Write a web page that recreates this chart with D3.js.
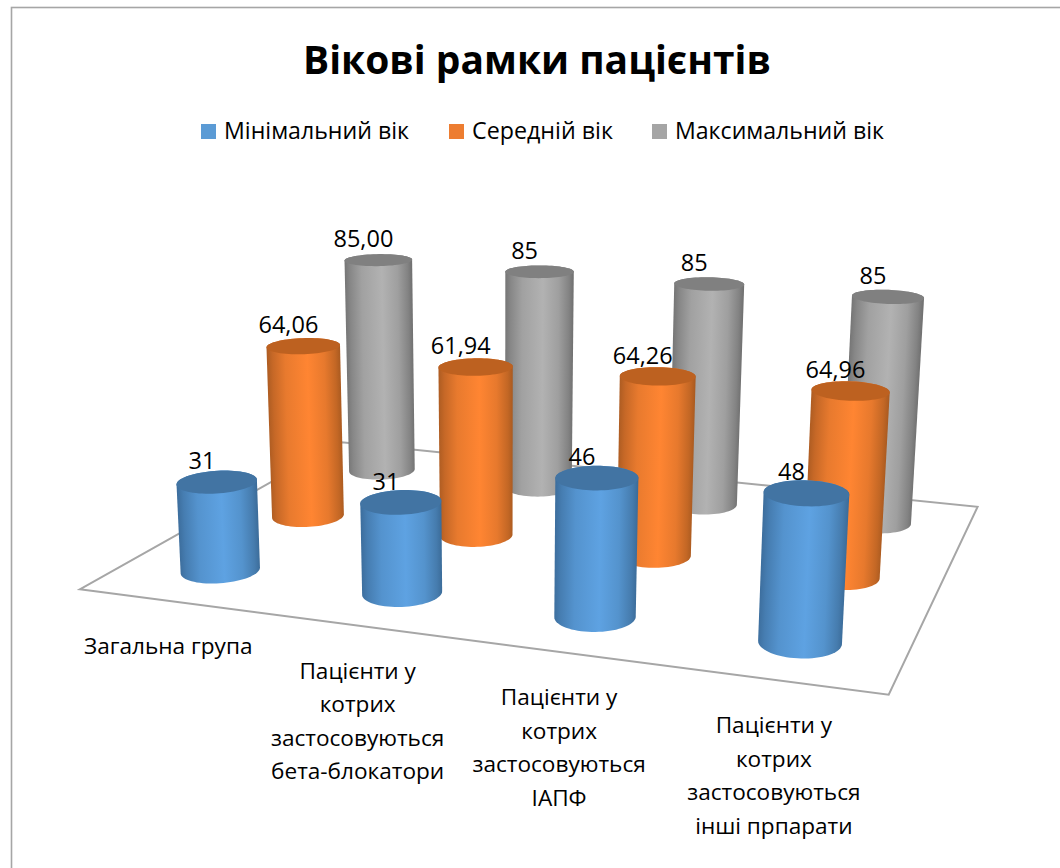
<!DOCTYPE html>
<html><head><meta charset="utf-8">
<script src="https://cdnjs.cloudflare.com/ajax/libs/d3/7.8.5/d3.min.js"></script>
<style>html,body{margin:0;padding:0;background:#fff}svg{display:block}text{font-family:"Open Sans",sans-serif;fill:#000}</style>
</head><body><svg id="c" width="1060" height="868"></svg>
<script>
const title = "Вікові рамки пацієнтів";
const categories = ["Загальна група","Пацієнти у котрих застосовуються бета-блокатори","Пацієнти у котрих застосовуються ІАПФ","Пацієнти у котрих застосовуються інші прпарати"];
const categoryLines = [["Загальна група"],["Пацієнти у","котрих","застосовуються","бета-блокатори"],["Пацієнти у","котрих","застосовуються","ІАПФ"],["Пацієнти у","котрих","застосовуються","інші прпарати"]];
const seriesNames = ["Мінімальний вік","Середній вік","Максимальний вік"];
const minAge = [31,31,46,48];
const meanAge = [64.06,61.94,64.26,64.96];
const maxAge = [85,85,85,85];
const minLabels = ["31","31","46","48"];
const meanLabels = ["64,06","61,94","64,26","64,96"];
const maxLabels = ["85,00","85","85","85"];
const seriesValues = [minAge,meanAge,maxAge];
const seriesLabels = [minLabels,meanLabels,maxLabels];
const legendColors = ["#5b9bd5","#ed7d31","#a5a5a5"];
const sideColors = [["#3c6d9c","#5ea2e2","#3b6b98"],["#ad5c22","#ff8532","#a95a20"],["#757575","#b2b2b2","#6f6f6f"]];
const capColors = ["#4274a3","#bd6120","#808080"];

const svg = d3.select("#c");
const u = d3.scalePoint().domain(categories).range([0,3]);
const v = d3.scalePoint().domain(seriesNames).range([0,2]);
const hScale = d3.scaleLinear().domain([0,100]).range([0,1]);

// camera: floor homography from unit square plus a vertical vanishing point
const H = {a:510.75,b:232.67,c:220.5,d:16.83,e:-12.44,f:570,g:-0.08594,h:0.1863};
const vp = {x:503,y:7550,q:-0.0402};
function project(uu,vv,hh){
  const s=uu/3,t=vv/2;
  const W=1+H.g*s+H.h*t+vp.q*hh;
  return [(H.a*s+H.b*t+H.c+vp.q*hh*vp.x)/W,(H.d*s+H.e*t+H.f+vp.q*hh*vp.y)/W];
}
const ru=0.193, rv=0.212, floorPad=0.5;
const angles=d3.range(0,2*Math.PI,Math.PI/36);
const ring=(uu,vv,hh)=>angles.map(a=>project(uu+ru*Math.cos(a),vv+rv*Math.sin(a),hh));
const closed=d3.line().curve(d3.curveLinearClosed);

// frame: only the left and top edges fall inside the picture
svg.append("rect").attr("x",11.5).attr("y",7.5).attr("width",1100).attr("height",900).attr("fill","#fff").attr("stroke","#a6a6a6").attr("stroke-width",1.6);

// title + legend
svg.append("text").attr("x",537).attr("y",74).attr("text-anchor","middle").attr("font-size",40).attr("font-weight",700).attr("textLength",468).attr("lengthAdjust","spacingAndGlyphs").text(title);
const legendX=[201,449,652], legendW=[185,141,209];
const lg=svg.append("g").selectAll("g").data(seriesNames).join("g");
lg.append("rect").attr("x",(d,i)=>legendX[i]).attr("y",124).attr("width",15).attr("height",15).attr("fill",(d,i)=>legendColors[i]);
lg.append("text").attr("x",(d,i)=>legendX[i]+23).attr("y",139).attr("font-size",23.5).attr("textLength",(d,i)=>legendW[i]).attr("lengthAdjust","spacingAndGlyphs").text(d=>d);

// floor
const floorU=[u.range()[0]-floorPad,u.range()[1]+floorPad], floorV=[v.range()[0]-floorPad,v.range()[1]+floorPad];
svg.append("path").attr("d",closed([project(floorU[0],floorV[0],0),project(floorU[1],floorV[0],0),project(floorU[1],floorV[1],0),project(floorU[0],floorV[1],0)]))
  .attr("fill","none").attr("stroke","#a6a6a6").attr("stroke-width",2);

// cylinders back to front
const defs=svg.append("defs");
const marks=[];
seriesNames.forEach((sn,si)=>categories.forEach((c,ci)=>marks.push({sn,si,c,ci,value:seriesValues[si][ci],label:seriesLabels[si][ci]})));
marks.sort((m,n)=>d3.descending(m.si,n.si)||d3.ascending(m.ci,n.ci));
const gCyl=svg.append("g");
marks.forEach((m,idx)=>{
  const uu=u(m.c),vv=v(m.sn),hh=hScale(m.value);
  const base=ring(uu,vv,0), top=ring(uu,vv,hh);
  const hull=d3.polygonHull(base.concat(top));
  const bc=project(uu,vv,0), tc=project(uu,vv,hh);
  // gradient runs across the (slightly leaning) axis, left to right on screen
  const ax=tc[0]-bc[0], ay=tc[1]-bc[1], al=Math.hypot(ax,ay);
  let nx=-ay/al, ny=ax/al; if(nx<0){nx=-nx;ny=-ny;}
  const mx=(bc[0]+tc[0])/2,my=(bc[1]+tc[1])/2;
  const ext=d3.extent(hull,p=>(p[0]-mx)*nx+(p[1]-my)*ny);
  const id="g"+idx;
  const gr=defs.append("linearGradient").attr("id",id).attr("gradientUnits","userSpaceOnUse")
    .attr("x1",mx+nx*ext[0]).attr("y1",my+ny*ext[0]).attr("x2",mx+nx*ext[1]).attr("y2",my+ny*ext[1]);
  const sc=sideColors[m.si];
  const toL=d3.interpolateRgb(sc[0],sc[1]), toR=d3.interpolateRgb(sc[2],sc[1]);
  [[0,sc[0]],[0.08,toL(0.3)],[0.25,toL(0.72)],[0.55,sc[1]],[0.78,toR(0.72)],[0.93,toR(0.3)],[1,sc[2]]]
    .forEach(s=>gr.append("stop").attr("offset",s[0]).attr("stop-color",s[1]));
  gCyl.append("path").attr("d",closed(hull)).attr("fill",`url(#${id})`);
  gCyl.append("path").attr("d",closed(top)).attr("fill",capColors[m.si]);
});

// data labels
const lblDx=-15, lblDy=-21;
svg.append("g").selectAll("text").data(marks).join("text")
  .attr("x",m=>project(u(m.c),v(m.sn),hScale(m.value))[0]+lblDx)
  .attr("y",m=>project(u(m.c),v(m.sn),hScale(m.value))[1]+lblDy)
  .attr("dy","0.36em").attr("text-anchor","middle").attr("font-size",23.5).text(m=>m.label);

// category labels under the front floor edge
const catG=svg.append("g").selectAll("g").data(categories).join("g");
catG.each(function(c,i){
  const p=project(u(c),floorV[0],0);
  d3.select(this).selectAll("text").data(categoryLines[i]).join("text")
    .attr("x",p[0]-2).attr("y",(d,j)=>p[1]+45+j*33.5).attr("dy","0.36em").attr("text-anchor","middle").attr("font-size",22.6).text(d=>d);
});
</script></body></html>
